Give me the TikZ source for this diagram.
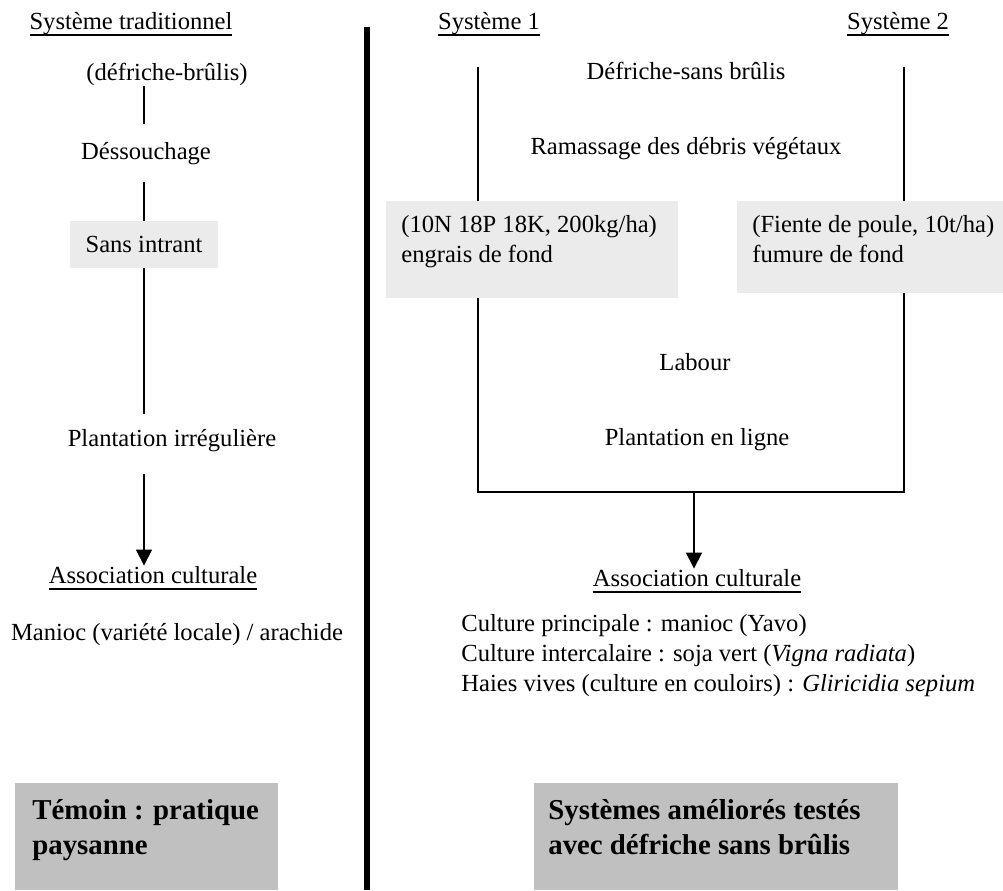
\documentclass[tikz,border=0pt]{standalone}
\usepackage{fontspec}
\setmainfont{Liberation Serif}
\usetikzlibrary{arrows.meta}

\definecolor{lightbox}{HTML}{EBEBEB}
\definecolor{darkbox}{HTML}{C0C0C0}
\newcommand{\ulined}[1]{\setbox0=\hbox{#1}\leavevmode\rlap{\raisebox{-0.14cm}{\rule{\wd0}{0.04cm}}}\box0}

\begin{document}
\begin{tikzpicture}[
  txt/.style={inner sep=0pt, anchor=base, font=\fontsize{14}{16.8}\selectfont},
  ltxt/.style={txt, anchor=base west},
  btxt/.style={inner sep=0pt, anchor=base west, font=\fontsize{16.4}{19.7}\selectfont\bfseries},
  lightfill/.style={fill=lightbox, inner sep=0pt},
  darkfill/.style={fill=darkbox, inner sep=0pt},
  link/.style={line width=0.7pt},
  arrow/.style={link, -{Triangle[length=0.32cm, width=0.32cm]}}
]
  \useasboundingbox (0,0) rectangle (20.06,-17.80);

  % separator
  \coordinate (septop) at (7.34,-0.54);
  \coordinate (sepbot) at (7.34,-17.80);
  \draw[line width=0.12cm] (septop) -- (sepbot);

  % left: traditional system
  \node[txt] (hdr0) at (2.62,-0.58) {\ulined{Système traditionnel}};
  \node[txt] (defbr) at (3.34,-1.60) {(défriche-brûlis)};
  \node[txt] (dess) at (2.92,-3.18) {Déssouchage};
  \node[lightfill, minimum width=2.96cm, minimum height=0.94cm, font=\fontsize{14}{16.8}\selectfont] (intrant) at (2.88,-4.89) {Sans intrant};
  \node[txt] (plirr) at (3.44,-8.92) {Plantation irrégulière};
  \node[txt] (assoc1) at (3.06,-11.66) {\ulined{Association culturale}};
  \node[txt] (manioc) at (3.54,-12.80) {Manioc (variété locale) / arachide};

  \coordinate (l1a) at (2.88,-1.72);
  \coordinate (l1b) at (2.88,-2.48);
  \coordinate (l2a) at (2.88,-3.64);
  \coordinate (l3b) at (2.88,-8.28);
  \coordinate (l4a) at (2.88,-9.48);
  \draw[link] (l1a) -- (l1b);
  \draw[link] (l2a) -- (intrant.north);
  \draw[link] (intrant.south) -- (l3b);
  \draw[arrow] (l4a) -- (l4a |- assoc1.north);

  % right: systems 1 and 2
  \node[txt] (hdr1) at (9.78,-0.58) {\ulined{Système 1}};
  \node[txt] (hdr2) at (17.96,-0.58) {\ulined{Système 2}};
  \node[txt] (defsb) at (13.72,-1.58) {Défriche-sans brûlis};
  \node[txt] (ramas) at (13.72,-3.08) {Ramassage des débris végétaux};

  \node[lightfill, minimum width=5.84cm, minimum height=1.94cm] (box1) at (10.64,-4.99) {};
  \node[ltxt] (box1a) at (8.02,-4.64) {(10N 18P 18K, 200kg/ha)};
  \node[ltxt] (box1b) at (8.02,-5.24) {engrais de fond};
  \node[lightfill, minimum width=5.32cm, minimum height=1.84cm] (box2) at (17.40,-4.94) {};
  \node[ltxt] (box2a) at (15.04,-4.64) {(Fiente de poule, 10t/ha)};
  \node[ltxt] (box2b) at (15.04,-5.24) {fumure de fond};

  \node[txt] (labour) at (13.90,-7.40) {Labour};
  \node[txt] (plligne) at (13.94,-8.90) {Plantation en ligne};
  \node[txt] (assoc2) at (13.94,-11.72) {\ulined{Association culturale}};
  \node[ltxt] (cult1) at (9.22,-12.62) {Culture principale : manioc (Yavo)};
  \node[ltxt] (cult2) at (9.22,-13.22) {Culture intercalaire : soja vert (\textit{Vigna radiata})};
  \node[ltxt] (cult3) at (9.22,-13.82) {Haies vives (culture en couloirs) : \textit{Gliricidia sepium}};

  \coordinate (s1top) at (9.56,-1.34);
  \coordinate (s1bot) at (9.56,-9.84);
  \coordinate (s2top) at (18.08,-1.34);
  \coordinate (s2bot) at (18.08,-9.84);
  \coordinate (join) at (13.88,-9.84);
  \draw[link] (s1top) -- (s1top |- box1.north);
  \draw[link] (s2top) -- (s2top |- box2.north);
  \draw[link] (box1.south -| s1bot) -- (s1bot) -- (s2bot) -- (box2.south -| s2bot);
  \draw[arrow] (join) -- (join |- assoc2.north);

  % bottom labels
  \node[darkfill, minimum width=5.26cm, minimum height=2.14cm] (temoin) at (2.93,-16.73) {};
  \node[btxt] (temoina) at (0.64,-16.38) {Témoin : pratique};
  \node[btxt] (temoinb) at (0.64,-17.08) {paysanne};
  \node[darkfill, minimum width=7.28cm, minimum height=2.14cm] (ameliore) at (14.32,-16.73) {};
  \node[btxt] (ameliorea) at (10.96,-16.38) {Systèmes améliorés testés};
  \node[btxt] (amelioreb) at (10.96,-17.08) {avec défriche sans brûlis};
\end{tikzpicture}
\end{document}
